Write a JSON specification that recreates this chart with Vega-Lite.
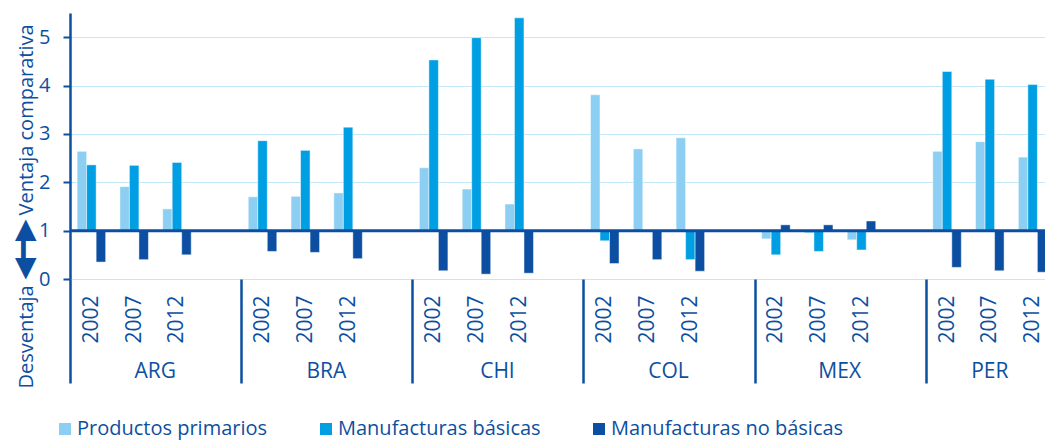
{
  "$schema": "https://vega.github.io/schema/vega-lite/v6.json",
  "width": 975,
  "height": 266,
  "autosize": {"type": "none"},
  "padding": {"left": 70, "top": 13, "right": 0, "bottom": 162},
  "config": {"view": {"stroke": null}, "font": "Open Sans"},
  "data": {"values": [
    {"grupo": "ARG|2002", "serie": "Productos primarios", "valor": 2.64},
    {"grupo": "ARG|2002", "serie": "Manufacturas básicas", "valor": 2.36},
    {"grupo": "ARG|2002", "serie": "Manufacturas no básicas", "valor": 0.35},
    {"grupo": "ARG|2007", "serie": "Productos primarios", "valor": 1.91},
    {"grupo": "ARG|2007", "serie": "Manufacturas básicas", "valor": 2.35},
    {"grupo": "ARG|2007", "serie": "Manufacturas no básicas", "valor": 0.40},
    {"grupo": "ARG|2012", "serie": "Productos primarios", "valor": 1.45},
    {"grupo": "ARG|2012", "serie": "Manufacturas básicas", "valor": 2.41},
    {"grupo": "ARG|2012", "serie": "Manufacturas no básicas", "valor": 0.50},
    {"grupo": "BRA|2002", "serie": "Productos primarios", "valor": 1.70},
    {"grupo": "BRA|2002", "serie": "Manufacturas básicas", "valor": 2.86},
    {"grupo": "BRA|2002", "serie": "Manufacturas no básicas", "valor": 0.57},
    {"grupo": "BRA|2007", "serie": "Productos primarios", "valor": 1.71},
    {"grupo": "BRA|2007", "serie": "Manufacturas básicas", "valor": 2.66},
    {"grupo": "BRA|2007", "serie": "Manufacturas no básicas", "valor": 0.55},
    {"grupo": "BRA|2012", "serie": "Productos primarios", "valor": 1.78},
    {"grupo": "BRA|2012", "serie": "Manufacturas básicas", "valor": 3.14},
    {"grupo": "BRA|2012", "serie": "Manufacturas no básicas", "valor": 0.42},
    {"grupo": "CHI|2002", "serie": "Productos primarios", "valor": 2.30},
    {"grupo": "CHI|2002", "serie": "Manufacturas básicas", "valor": 4.53},
    {"grupo": "CHI|2002", "serie": "Manufacturas no básicas", "valor": 0.17},
    {"grupo": "CHI|2007", "serie": "Productos primarios", "valor": 1.86},
    {"grupo": "CHI|2007", "serie": "Manufacturas básicas", "valor": 4.99},
    {"grupo": "CHI|2007", "serie": "Manufacturas no básicas", "valor": 0.10},
    {"grupo": "CHI|2012", "serie": "Productos primarios", "valor": 1.55},
    {"grupo": "CHI|2012", "serie": "Manufacturas básicas", "valor": 5.40},
    {"grupo": "CHI|2012", "serie": "Manufacturas no básicas", "valor": 0.12},
    {"grupo": "COL|2002", "serie": "Productos primarios", "valor": 3.81},
    {"grupo": "COL|2002", "serie": "Manufacturas básicas", "valor": 0.79},
    {"grupo": "COL|2002", "serie": "Manufacturas no básicas", "valor": 0.32},
    {"grupo": "COL|2007", "serie": "Productos primarios", "valor": 2.69},
    {"grupo": "COL|2007", "serie": "Manufacturas básicas", "valor": 1.0},
    {"grupo": "COL|2007", "serie": "Manufacturas no básicas", "valor": 0.40},
    {"grupo": "COL|2012", "serie": "Productos primarios", "valor": 2.92},
    {"grupo": "COL|2012", "serie": "Manufacturas básicas", "valor": 0.40},
    {"grupo": "COL|2012", "serie": "Manufacturas no básicas", "valor": 0.16},
    {"grupo": "MEX|2002", "serie": "Productos primarios", "valor": 0.83},
    {"grupo": "MEX|2002", "serie": "Manufacturas básicas", "valor": 0.50},
    {"grupo": "MEX|2002", "serie": "Manufacturas no básicas", "valor": 1.12},
    {"grupo": "MEX|2007", "serie": "Productos primarios", "valor": 0.95},
    {"grupo": "MEX|2007", "serie": "Manufacturas básicas", "valor": 0.57},
    {"grupo": "MEX|2007", "serie": "Manufacturas no básicas", "valor": 1.12},
    {"grupo": "MEX|2012", "serie": "Productos primarios", "valor": 0.81},
    {"grupo": "MEX|2012", "serie": "Manufacturas básicas", "valor": 0.60},
    {"grupo": "MEX|2012", "serie": "Manufacturas no básicas", "valor": 1.20},
    {"grupo": "PER|2002", "serie": "Productos primarios", "valor": 2.64},
    {"grupo": "PER|2002", "serie": "Manufacturas básicas", "valor": 4.29},
    {"grupo": "PER|2002", "serie": "Manufacturas no básicas", "valor": 0.24},
    {"grupo": "PER|2007", "serie": "Productos primarios", "valor": 2.84},
    {"grupo": "PER|2007", "serie": "Manufacturas básicas", "valor": 4.13},
    {"grupo": "PER|2007", "serie": "Manufacturas no básicas", "valor": 0.17},
    {"grupo": "PER|2012", "serie": "Productos primarios", "valor": 2.52},
    {"grupo": "PER|2012", "serie": "Manufacturas básicas", "valor": 4.02},
    {"grupo": "PER|2012", "serie": "Manufacturas no básicas", "valor": 0.14}
  ]},
  "layer": [
    {
      "mark": {"type": "bar", "stroke": "#ffffff", "strokeWidth": 0.8, "strokeOpacity": 0.6},
      "encoding": {
        "x": {
          "field": "grupo", "type": "nominal",
          "scale": {"domain": ["ARG|2002","ARG|2007","ARG|2012","ARG|","BRA|2002","BRA|2007","BRA|2012","BRA|","CHI|2002","CHI|2007","CHI|2012","CHI|","COL|2002","COL|2007","COL|2012","COL|","MEX|2002","MEX|2007","MEX|2012","MEX|","PER|2002","PER|2007","PER|2012"], "range": [0, 984], "paddingInner": 0, "paddingOuter": 0},
          "axis": {
            "orient": "bottom", "title": null, "domain": false, "grid": false,
            "labelExpr": "split(datum.value, '|')[1]",
            "labelAngle": 270, "labelFontSize": 21, "labelColor": "#0d4f9f", "labelFont": "Open Sans",
            "labelPadding": -88, "labelOverlap": false,
            "ticks": true, "tickBand": "extent", "tickSize": 104, "tickWidth": 2.5, "tickColor": "#0d4f9f",
            "tickOpacity": {"condition": {"test": "datum.extra || !isString(datum.value) || slice(datum.value, -1) === '|'", "value": 1}, "value": 0}
          }
        },
        "xOffset": {"field": "serie", "type": "nominal", "scale": {"domain": ["Productos primarios", "Manufacturas básicas", "Manufacturas no básicas"], "paddingInner": 0, "paddingOuter": 0.75}},
        "y": {
          "field": "valor", "type": "quantitative",
          "scale": {"domain": [0, 5.5], "nice": false},
          "axis": {
            "orient": "left", "values": [0, 1, 2, 3, 4, 5],
            "title": "Ventaja comparativa", "titleX": -38, "titleY": 202, "titleAngle": 270, "titleAlign": "left", "titleBaseline": "alphabetic",
            "titleFontSize": 20, "titleFontWeight": "normal", "titleColor": "#0d4f9f", "titleFont": "Open Sans",
            "labelFontSize": 20, "labelColor": "#0d4f9f", "labelPadding": 13, "labelFont": "Open Sans",
            "tickSize": 7, "tickWidth": 2, "tickColor": "#0d4f9f",
            "domainColor": "#0d4f9f", "domainWidth": 2.5,
            "grid": true, "gridColor": "#c4e8f8", "gridWidth": 1.2
          }
        },
        "y2": {"datum": 1},
        "color": {
          "field": "serie", "type": "nominal",
          "scale": {"domain": ["Productos primarios", "Manufacturas básicas", "Manufacturas no básicas"], "range": ["#8ccff2", "#009ee2", "#0b4ea2"]},
          "legend": {
            "orient": "none", "legendX": -15, "legendY": 406, "direction": "horizontal", "title": null,
            "symbolType": "square", "symbolSize": 144, "symbolStrokeWidth": 0,
            "labelFontSize": 20, "labelColor": "#0d4f9f", "labelFont": "Open Sans", "labelLimit": 400,
            "columnPadding": 48, "labelOffset": 2
          }
        }
      }
    },
    {
      "data": {"values": [{}]},
      "mark": {"type": "rule", "color": "#0b4ea2", "strokeWidth": 3},
      "encoding": {
        "y": {
          "datum": 1, "type": "quantitative",
          "scale": {"domain": [0, 5.5], "nice": false},
          "axis": {
            "orient": "left", "labels": false, "ticks": false, "domain": false, "grid": false,
            "title": "Desventaja", "titleX": -38, "titleY": 375, "titleAngle": 270, "titleAlign": "left", "titleBaseline": "alphabetic",
            "titleFontSize": 20, "titleFontWeight": "normal", "titleColor": "#0d4f9f", "titleFont": "Open Sans"
          }
        }
      }
    },
    {
      "mark": {"type": "point", "opacity": 0},
      "encoding": {
        "x": {
          "field": "grupo", "type": "nominal",
          "scale": {"domain": ["ARG|2002","ARG|2007","ARG|2012","ARG|","BRA|2002","BRA|2007","BRA|2012","BRA|","CHI|2002","CHI|2007","CHI|2012","CHI|","COL|2002","COL|2007","COL|2012","COL|","MEX|2002","MEX|2007","MEX|2012","MEX|","PER|2002","PER|2007","PER|2012"], "range": [0, 984], "paddingInner": 0, "paddingOuter": 0},
          "axis": {
            "orient": "bottom", "title": null, "domain": false, "grid": false, "ticks": false,
            "labelExpr": "indexof(datum.value, '|2007') > 0 ? split(datum.value, '|')[0] : ''",
            "labelAngle": 0, "labelFontSize": 21, "labelColor": "#0d4f9f", "labelFont": "Open Sans",
            "labelPadding": 92, "labelBaseline": "middle", "labelOverlap": false,
            "labelOffset": {"condition": {"test": "indexof(datum.value, 'PER') === 0", "value": 0}, "value": 21}
          }
        },
        "y": {
          "field": "valor", "type": "quantitative",
          "scale": {"domain": [0, 5.5], "nice": false},
          "axis": {
            "orient": "left", "labels": false, "ticks": false, "domain": false, "grid": false,
            "title": "◀━▶", "titleX": -46, "titleY": 236, "titleAngle": 270, "titleAlign": "center", "titleBaseline": "middle",
            "titleFontSize": 28, "titleFontWeight": "normal", "titleColor": "#0b4ea2", "titleFont": "DejaVu Sans"
          }
        }
      }
    }
  ],
  "resolve": {"axis": {"x": "independent", "y": "independent"}}
}
